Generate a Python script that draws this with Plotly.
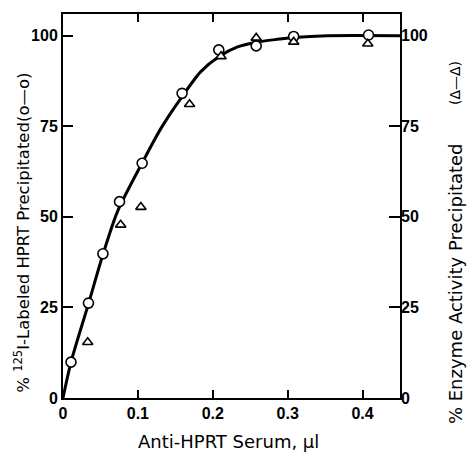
import plotly.graph_objects as go

# Data
circle_x = [0.0107, 0.034, 0.0533, 0.0755, 0.1057, 0.159, 0.208, 0.258, 0.308, 0.408]
circle_y = [9.9, 26.2, 39.8, 54.2, 64.8, 84.1, 96.1, 97.2, 99.8, 100.2]

tri_x = [0.033, 0.077, 0.104, 0.169, 0.211, 0.258, 0.308, 0.407]
tri_y = [15.4, 47.8, 52.7, 81.1, 94.3, 99.4, 98.3, 97.8]

curve_x = [0, 0.0107, 0.034, 0.0533, 0.073, 0.106, 0.131, 0.159, 0.184, 0.208,
           0.233, 0.258, 0.286, 0.308, 0.353, 0.45]
curve_y = [0, 9.9, 26, 39.6, 51.6, 65, 74.5, 83.2, 90.1, 94.2,
           96.9, 98.2, 99, 99.5, 100, 100]

x_ticks = [0, 0.1, 0.2, 0.3, 0.4]
x_ticktext = ["0", "0.1", "0.2", "0.3", "0.4"]
y_ticks = [0, 25, 50, 75, 100]
y_ticktext = ["0", "25", "50", "75", "100"]

x_title = "Anti-HPRT Serum, µl"
left_title = "% <sup>125</sup>I-Labeled HPRT Precipitated(o—o)"
right_title = "% Enzyme Activity Precipitated"
right_symbol = "(Δ—Δ)"

TITLE_FONT = dict(family="DejaVu Sans", size=16.5, color="black")
RIGHT_FONT = dict(family="DejaVu Sans", size=18, color="black")
TICK_FONT = dict(family="Liberation Sans", size=16, color="black", weight="bold")

fig = go.Figure()
fig.add_trace(go.Scatter(
    x=curve_x, y=curve_y, mode="lines",
    line=dict(color="black", width=3, shape="spline", smoothing=0.8),
    showlegend=False, hoverinfo="skip"))
fig.add_trace(go.Scatter(
    x=tri_x, y=tri_y, mode="markers", yaxis="y2",
    marker=dict(symbol="triangle-up", size=9, color="white",
                line=dict(color="black", width=1.6)),
    showlegend=False))
fig.add_trace(go.Scatter(
    x=circle_x, y=circle_y, mode="markers",
    marker=dict(symbol="circle", size=10, color="white",
                line=dict(color="black", width=1.6)),
    showlegend=False))

Y_RANGE = [0, 106]
fig.update_layout(
    width=471, height=463,
    margin=dict(l=63, r=71, t=12, b=65),
    paper_bgcolor="white", plot_bgcolor="white",
    xaxis=dict(range=[0, 0.45], tickvals=x_ticks, ticktext=x_ticktext,
               ticks="inside", ticklen=8, tickwidth=1.5, tickcolor="black",
               showline=True, linewidth=2, linecolor="black", mirror="ticks",
               showgrid=False, zeroline=False, tickfont=TICK_FONT),
    yaxis=dict(range=Y_RANGE, tickvals=y_ticks, ticktext=y_ticktext,
               ticks="inside", ticklen=10, tickwidth=1.5, tickcolor="black",
               showline=True, linewidth=2, linecolor="black", mirror=True,
               showgrid=False, zeroline=False, tickfont=TICK_FONT),
    yaxis2=dict(range=Y_RANGE, tickvals=y_ticks, ticktext=y_ticktext,
                overlaying="y", side="right",
                ticks="inside", ticklen=11, tickwidth=1.5, tickcolor="black",
                showline=False, showgrid=False, zeroline=False, tickfont=TICK_FONT),
)

fig.add_annotation(text=x_title, xref="paper", yref="paper", x=0.49, y=-0.114,
                   showarrow=False, font=RIGHT_FONT, xanchor="center", yanchor="middle")
fig.add_annotation(text=left_title, xref="paper", yref="paper", x=-0.122, y=0.43,
                   showarrow=False, font=TITLE_FONT, textangle=-90,
                   xanchor="center", yanchor="middle")
fig.add_annotation(text=right_title, xref="paper", yref="paper", x=1.163, y=0.299,
                   showarrow=False, font=RIGHT_FONT, textangle=-90,
                   xanchor="center", yanchor="middle")
fig.add_annotation(text=right_symbol, xref="paper", yref="paper", x=1.163, y=0.82,
                   showarrow=False, font=dict(family="DejaVu Sans", size=14, color="black"),
                   textangle=-90, xanchor="center", yanchor="middle")

fig.write_html("out.html", config={"displayModeBar": False},
               post_script="document.body.style.margin='0px';document.body.style.padding='0px';")
